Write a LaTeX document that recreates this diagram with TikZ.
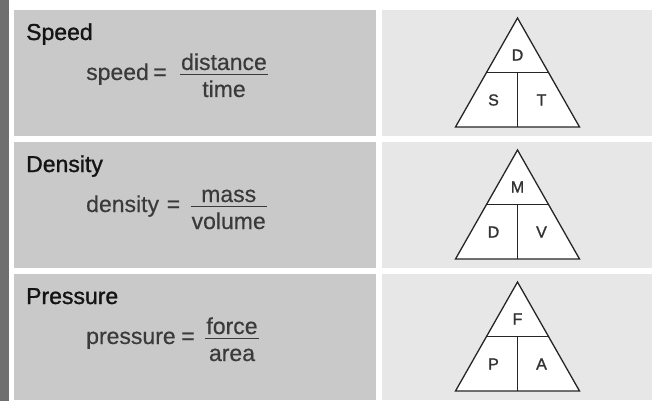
\documentclass[tikz,border=0pt]{standalone}
\usepackage{fontspec}
\setmainfont{Liberation Sans}
\newfontfamily\ttlfont[FakeBold=1.2]{Liberation Sans}
\newfontfamily\frmfont[FakeBold=0.4]{Liberation Sans}
\newfontfamily\letfont[FakeBold=1.5]{Liberation Sans}
\usetikzlibrary{calc}
\definecolor{barc}{HTML}{6F6F6F}
\definecolor{leftc}{HTML}{C9C9C9}
\definecolor{rightc}{HTML}{E7E7E7}
\definecolor{formc}{HTML}{3A3A3A}
\newcommand\mytri[5]{%
  \coordinate (#1a) at (517.5,#2);
  \coordinate (#1l) at (455.5,#2+109);
  \coordinate (#1r) at (579.5,#2+109);
  \coordinate (#1ml) at ($(#1a)!0.5!(#1l)$);
  \coordinate (#1mr) at ($(#1a)!0.5!(#1r)$);
  \coordinate (#1mb) at ($(#1l)!0.5!(#1r)$);
  \coordinate (#1mm) at ($(#1ml)!0.5!(#1mr)$);
  \draw[triline,fill=white] (#1a) -- (#1l) -- (#1r) -- cycle;
  \draw[triline] (#1ml) -- (#1mr);
  \draw[triline] (#1mb) -- (#1mm);
  \node[tlet] (#1t) at (517.5,#2+37) {#3};
  \node[tlet] (#1p) at (493.5,#2+82) {#4};
  \node[tlet] (#1q) at (541.5,#2+82) {#5};
}
\begin{document}
\begin{tikzpicture}[x=1pt,y=-1pt,
  triline/.style={draw=black!85,line width=1.3pt,line join=miter},
  tlet/.style={font=\letfont\fontsize{16}{16}\selectfont,text=black!80,inner sep=0pt},
  ttl/.style={font=\ttlfont\fontsize{23}{23}\selectfont,text=black!92,anchor=base west,inner sep=0pt},
  ftx/.style={font=\frmfont\fontsize{23}{23}\selectfont,text=formc,inner sep=0pt},
  fbar/.style={draw=formc,line width=1.1pt}]
\useasboundingbox (0,0) rectangle (653,401);
\fill[white] (0,0) rectangle (653,401);
\fill[barc] (0,0) rectangle (9,401);
\foreach \yy in {10,142,274}{
  \fill[leftc] (14,\yy) rectangle (376,\yy+126);
  \fill[rightc] (382,\yy) rectangle (652,\yy+126);
}
% Row 1
\node[ttl] (t1) at (26,40) {Speed};
\node[ftx,anchor=base west] (w1) at (86,80) {speed};
\node[ftx,anchor=base] (e1) at (160,80) {=};
\node[ftx,anchor=base] (n1) at (224,70) {distance};
\node[ftx,anchor=base] (d1) at (224,97) {time};
\coordinate (b1l) at (180,74.3);
\coordinate (b1r) at (268,74.3);
\draw[fbar] (b1l) -- (b1r);
\mytri{A}{18}{D}{S}{T}
% Row 2
\node[ttl] (t2) at (26,172) {Density};
\node[ftx,anchor=base west] (w2) at (86,212) {density};
\node[ftx,anchor=base] (e2) at (173.4,212) {=};
\node[ftx,anchor=base] (n2) at (228.7,202) {mass};
\node[ftx,anchor=base] (d2) at (228.7,229) {volume};
\coordinate (b2l) at (190.7,206.3);
\coordinate (b2r) at (266.7,206.3);
\draw[fbar] (b2l) -- (b2r);
\mytri{B}{150}{M}{D}{V}
% Row 3
\node[ttl] (t3) at (26,304) {Pressure};
\node[ftx,anchor=base west] (w3) at (86,344) {pressure};
\node[ftx,anchor=base] (e3) at (188,344) {=};
\node[ftx,anchor=base] (n3) at (232,334) {force};
\node[ftx,anchor=base] (d3) at (232,361) {area};
\coordinate (b3l) at (205,338.3);
\coordinate (b3r) at (259,338.3);
\draw[fbar] (b3l) -- (b3r);
\mytri{C}{282}{F}{P}{A}
\end{tikzpicture}
\end{document}
